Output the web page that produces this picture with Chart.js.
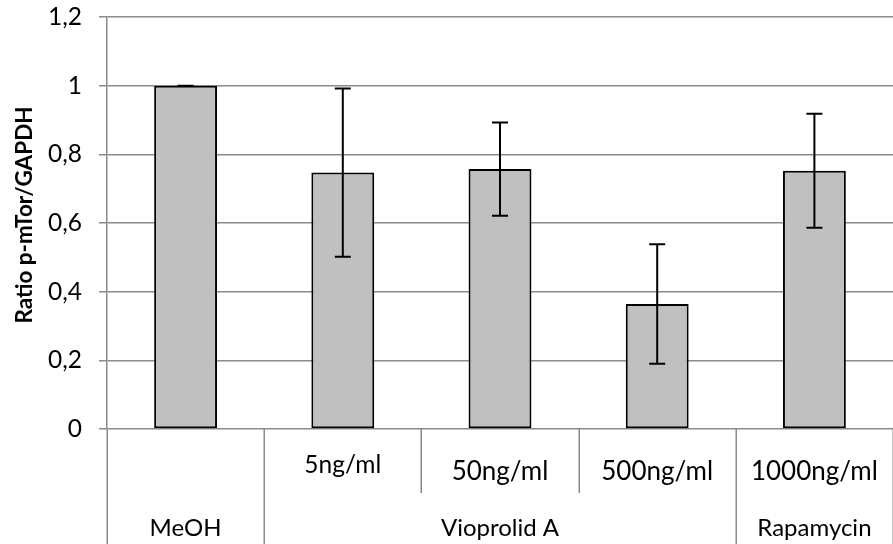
<!DOCTYPE html>
<html><head><meta charset="utf-8">
<script src="https://cdn.jsdelivr.net/npm/chart.js@4.4.1/dist/chart.umd.min.js"></script>
<style>html,body{margin:0;padding:0;background:#fff}canvas{display:block}</style>
</head>
<body>
<canvas id="c" width="893" height="544"></canvas>
<script>
// ---- data ----
const categories = ['MeOH', '5ng/ml', '50ng/ml', '500ng/ml', '1000ng/ml'];
const subLabels = ['', '5ng/ml', '50ng/ml', '500ng/ml', '1000ng/ml'];
const groupLabels = ['MeOH', 'Vioprolid A', 'Rapamycin'];
const groupSpans = [1, 3, 1];
const values = [1.0, 0.747, 0.757, 0.364, 0.752];
const errors = [0.0, 0.245, 0.136, 0.174, 0.166];
const yAxisTitle = 'Ratio p-mTor/GAPDH';
const yMin = 0, yMax = 1.2, yStep = 0.2;

// ---- styles ----
const FONT = 'Lato';
const GRID = '#8a8a8a';
const subLabelSizes = [24, 24.5, 26, 26, 26];
const subLabelBaselines = [473, 473, 480, 480, 480];

const errorBarPlugin = {
  id: 'errorBars',
  afterDatasetsDraw(chart) {
    const ctx = chart.ctx, x = chart.scales.x, y = chart.scales.y;
    ctx.save();
    ctx.strokeStyle = '#000';
    ctx.lineWidth = 2;
    values.forEach((v, i) => {
      const px = x.getPixelForValue(i);
      const top = y.getPixelForValue(v + errors[i]);
      const bot = y.getPixelForValue(v - errors[i]);
      ctx.beginPath();
      ctx.moveTo(px, top); ctx.lineTo(px, bot);
      ctx.moveTo(px - 8, top); ctx.lineTo(px + 8, top);
      ctx.moveTo(px - 8, bot); ctx.lineTo(px + 8, bot);
      ctx.stroke();
    });
    ctx.restore();
  }
};

const labelsPlugin = {
  id: 'multiLabels',
  afterDraw(chart) {
    const ctx = chart.ctx, x = chart.scales.x, area = chart.chartArea;
    const n = categories.length;
    const b = [];
    for (let i = 0; i <= n; i++) {
      if (i === 0) b.push(area.left);
      else if (i === n) b.push(area.right);
      else b.push((x.getPixelForValue(i - 1) + x.getPixelForValue(i)) / 2);
    }
    ctx.save();
    ctx.strokeStyle = GRID;
    ctx.lineWidth = 1.5;
    const full = new Set([0]);
    let acc = 0;
    groupSpans.forEach(s => { acc += s; full.add(acc); });
    for (let i = 0; i <= n; i++) {
      const bx = Math.round(b[i]) + 0.25;
      ctx.beginPath();
      ctx.moveTo(bx, area.bottom);
      ctx.lineTo(bx, full.has(i) ? 544 : 493);
      ctx.stroke();
    }
    ctx.fillStyle = '#000';
    ctx.textAlign = 'center';
    ctx.textBaseline = 'alphabetic';
    subLabels.forEach((t, i) => {
      if (!t) return;
      ctx.font = subLabelSizes[i] + 'px ' + FONT;
      ctx.fillText(t, x.getPixelForValue(i), subLabelBaselines[i]);
    });
    ctx.font = '24px ' + FONT;
    let start = 0;
    groupLabels.forEach((g, gi) => {
      const end = start + groupSpans[gi];
      ctx.fillText(g, (b[start] + b[end]) / 2, 536);
      start = end;
    });
    ctx.save();
    ctx.translate(25, (area.top + area.bottom) / 2 - 8);
    ctx.rotate(-Math.PI / 2);
    ctx.font = 'bold 22.5px ' + FONT;
    ctx.textBaseline = 'middle';
    ctx.fillText(yAxisTitle, 0, 0);
    ctx.restore();
    ctx.restore();
  }
};

new Chart(document.getElementById('c'), {
  type: 'bar',
  data: {
    labels: categories,
    datasets: [{
      data: values,
      backgroundColor: '#c0c0c0',
      borderColor: '#000',
      borderWidth: 2,
      borderSkipped: false,
      barPercentage: 0.4,
      categoryPercentage: 1.0
    }]
  },
  options: {
    responsive: false,
    animation: false,
    devicePixelRatio: 1,
    layout: { padding: { top: 17, left: 0, right: 0, bottom: 0 } },
    plugins: { legend: { display: false }, tooltip: { enabled: false } },
    scales: {
      x: {
        ticks: { display: false },
        grid: { display: false },
        border: { display: false },
        afterFit(s) { s.height = 115; s.paddingLeft = 0; s.paddingRight = 0; }
      },
      y: {
        min: yMin, max: yMax,
        ticks: {
          stepSize: yStep,
          padding: 17,
          color: '#000',
          font: { family: FONT, size: 24.5 },
          callback: v => Number(v.toFixed(1)).toString().replace('.', ',')
        },
        grid: { color: GRID, lineWidth: 1.5, tickLength: 8 },
        border: { color: GRID, width: 1.5 },
        afterFit(s) { s.width = 107; s.paddingTop = 0; s.paddingBottom = 0; }
      }
    }
  },
  plugins: [errorBarPlugin, labelsPlugin]
});
</script>
</body></html>
